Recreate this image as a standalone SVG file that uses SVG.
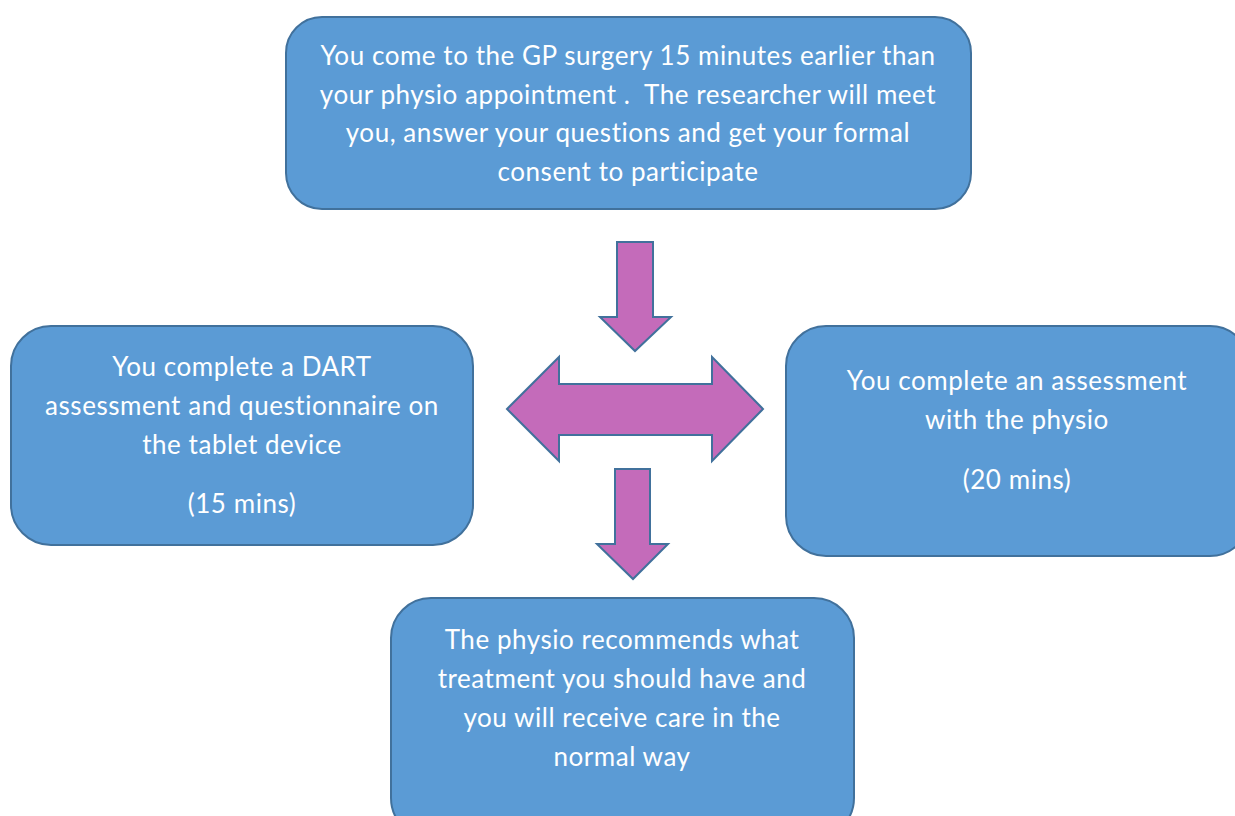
<svg xmlns="http://www.w3.org/2000/svg" width="1235" height="816" viewBox="0 0 1235 816">
<style>
.box{fill:#5B9BD5;stroke:#41719C;stroke-width:2}
.arr{fill:#C46BBA;stroke:#41719C;stroke-width:2;stroke-linejoin:miter}
.t{font-family:Lato,"Liberation Sans",sans-serif;font-size:26px;letter-spacing:0.55px;fill:#FFFFFF;text-anchor:middle;white-space:pre}
</style>
<rect width="1235" height="816" fill="#FFFFFF"/>
<g id="n-top">
<rect class="box" x="286" y="17" width="685" height="192" rx="36" ry="36"/>
<text class="t"><tspan x="628" y="65">You come to the GP surgery 15 minutes earlier than</tspan><tspan x="628" y="104">your physio appointment .  The researcher will meet</tspan><tspan x="628" y="142">you, answer your questions and get your formal</tspan><tspan x="628" y="181">consent to participate</tspan></text>
</g>
<g id="n-left">
<rect class="box" x="11" y="326" width="462" height="219" rx="40" ry="40"/>
<text class="t"><tspan x="242" y="376">You complete a DART</tspan><tspan x="242" y="415">assessment and questionnaire on</tspan><tspan x="242" y="454">the tablet device</tspan><tspan x="242" y="513">(15 mins)</tspan></text>
</g>
<g id="n-right">
<rect class="box" x="786" y="326" width="464" height="230" rx="40" ry="40"/>
<text class="t"><tspan x="1017" y="390">You complete an assessment</tspan><tspan x="1017" y="429">with the physio</tspan><tspan x="1017" y="489">(20 mins)</tspan></text>
</g>
<g id="n-bottom">
<rect class="box" x="391" y="598" width="463" height="240" rx="40" ry="40"/>
<text class="t"><tspan x="622" y="649">The physio recommends what</tspan><tspan x="622" y="688">treatment you should have and</tspan><tspan x="622" y="727">you will receive care in the</tspan><tspan x="622" y="766">normal way</tspan></text>
</g>
<g id="connectors">
<polygon class="arr" points="617,242 653,242 653,317 671,317 635,351 600,317 617,317"/>
<polygon class="arr" points="507,409 559,357 559,384 712,384 712,357 763,409 712,461 712,435 559,435 559,461"/>
<polygon class="arr" points="615,469 650,469 650,544 668,544 633,579 597,544 615,544"/>
</g>
</svg>
